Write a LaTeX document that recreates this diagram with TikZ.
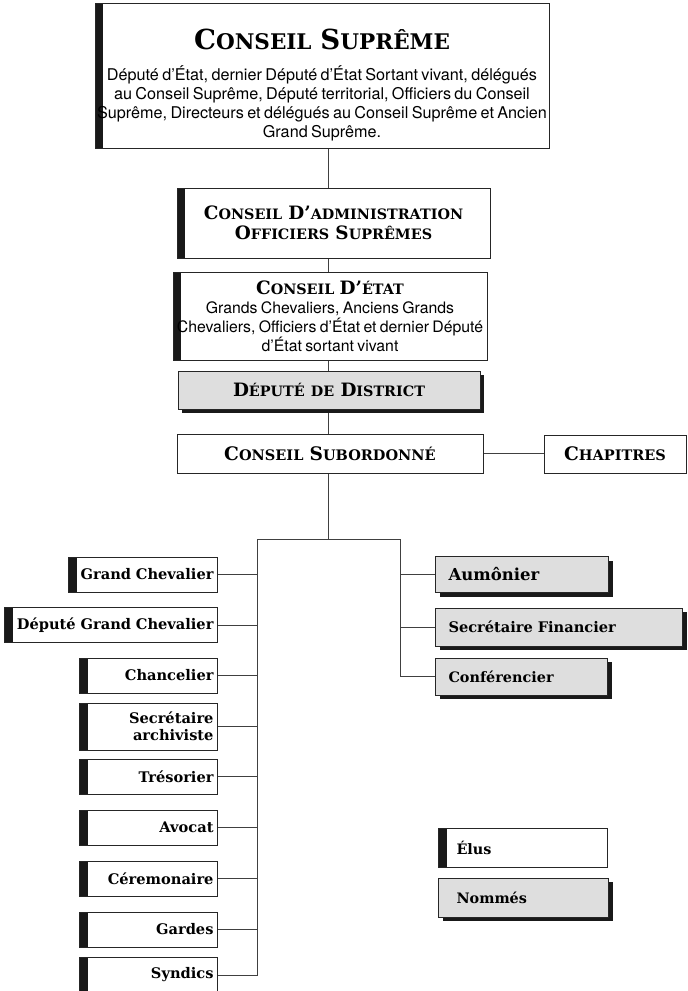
\documentclass[tikz,border=0pt]{standalone}
\usepackage{fontspec}
\usetikzlibrary{shadows,backgrounds}
\newfontfamily\helv{TeX Gyre Heros}
\newfontfamily\dvs{DejaVu Serif}
\newcommand\sch{\dvs\bfseries}
\newcommand\bodytext{\helv\fontsize{15.8}{19}\selectfont}
\makeatletter
\newcommand\sm[1]{{\fontsize{\fpeval{0.78*\f@size}}{\f@baselineskip}\selectfont #1}}
\makeatother

\begin{document}
\begin{tikzpicture}[x=1pt, y=-1pt,
    box/.style={draw=black!85, line width=1pt, fill=white, inner sep=0pt, align=center},
    elu/.style={box, path picture={\fill[black!90] (path picture bounding box.north west) rectangle ([xshift=8pt]path picture bounding box.south west);}},
    nomme/.style={box, fill=black!13, drop shadow={shadow xshift=4pt, shadow yshift=-4pt, fill=black!90, opacity=1}},
    lbox/.style={elu, anchor=east, align=right, inner xsep=4pt, text width=#1, minimum height=35pt, font=\fontsize{14.6}{17}\sch},
    rbox/.style={nomme, anchor=west, align=left, inner xsep=13pt, text width=#1, minimum height=36pt},
    link/.style={draw=black!75, line width=1pt}]
    \useasboundingbox (0,0) rectangle (688,991);

    % main chain
    \node[elu, text width=454pt, minimum height=145pt] (sup) at (322,75.5)
        {{\fontsize{27.6}{30}\sch\rule{0pt}{40pt}C\sm{ONSEIL}\hspace{0.2em} S\sm{UPRÊME}\par}\vspace{12pt}
         {\helv\fontsize{16.2}{19}\selectfont Député d’État, dernier Député d’État Sortant vivant, délégués\\
          au Conseil Suprême, Député territorial, Officiers du Conseil\\
          Suprême, Directeurs et délégués au Conseil Suprême et Ancien\\
          Grand Suprême.\par}};
    \node[elu, text width=313pt, minimum height=70pt, font=\fontsize{18.4}{20}\sch] (admin) at (333.5,223)
        {C\sm{ONSEIL} D’\sm{ADMINISTRATION}\\ O\sm{FFICIERS} S\sm{UPRÊMES}};
    \node[elu, text width=314pt, minimum height=88pt] (etat) at (330,316)
        {{\fontsize{18.4}{20}\sch C\sm{ONSEIL}\hspace{0.1em} D’\sm{ÉTAT}\par}
         {\bodytext Grands Chevaliers, Anciens Grands\\
          Chevaliers, Officiers d’État et dernier Député\\
          d’État sortant vivant\par}};
    \node[nomme, text width=302pt, minimum height=38pt, font=\fontsize{18.4}{20}\sch] (district) at (329,390)
        {D\sm{ÉPUTÉ DE} D\sm{ISTRICT}};
    \node[box, text width=306pt, minimum height=39pt, font=\fontsize{18.6}{20}\sch] (subord) at (330,453.5)
        {C\sm{ONSEIL} S\sm{UBORDONNÉ}};
    \node[box, text width=142pt, minimum height=38pt, font=\fontsize{18.6}{20}\sch] (chap) at (615,454)
        {C\sm{HAPITRES}};

    % elected officers
    \node[lbox=141pt] (gc) at (218,574.5) {Grand Chevalier};
    \node[lbox=205pt] (dgc) at (218,625) {Député Grand Chevalier};
    \node[lbox=130pt] (chanc) at (218,675.5) {Chancelier};
    \node[lbox=130pt, minimum height=47pt] (sarch) at (218,726.5) {Secrétaire\\ archiviste};
    \node[lbox=130pt] (tres) at (218,776.5) {Trésorier};
    \node[lbox=130pt] (avocat) at (218,827.5) {Avocat};
    \node[lbox=130pt] (cerem) at (218,878.5) {Céremonaire};
    \node[lbox=130pt] (gardes) at (218,929.5) {Gardes};
    \node[lbox=130pt] (syndics) at (218,975) {Syndics};

    % appointed officers
    \node[rbox=147pt, font=\fontsize{16.5}{17}\sch] (aum) at (435,574.5) {Aumônier};
    \node[rbox=221pt, minimum height=38pt, font=\fontsize{14.6}{15}\sch] (secfin) at (435,627) {Secrétaire Financier};
    \node[rbox=146pt, minimum height=37pt, font=\fontsize{14.4}{15}\sch] (conf) at (435,676.5) {Conférencier};

    % legend
    \node[elu, anchor=west, align=left, inner xsep=18pt, text width=133pt, minimum height=39pt, font=\fontsize{14.4}{15}\sch] (elus) at (438,847.5) {Élus};
    \node[nomme, anchor=west, align=left, inner xsep=18pt, text width=134pt, minimum height=39pt, font=\fontsize{14.4}{15}\sch] (nommes) at (438,897.5) {Nommés};

    \begin{scope}[on background layer]
    \coordinate (tr) at (328,0);
    \coordinate (fork) at (328,539);
    \coordinate (lt) at (257,539);
    \coordinate (rt) at (400,539);
    \draw[link] (sup.south -| tr) -- (admin.north -| tr);
    \draw[link] (admin.south -| tr) -- (etat.north -| tr);
    \draw[link] (etat.south -| tr) -- (district.north -| tr);
    \draw[link] (district.south -| tr) -- (subord.north -| tr);
    \draw[link] (subord.east) -- (chap.west |- subord.east);
    \draw[link] (subord.south -| tr) -- (fork);
    \draw[link] (lt) -- (rt);
    \draw[link] (lt) -- (lt |- syndics.east) -- (syndics.east);
    \draw[link] (rt) -- (rt |- conf.west) -- (conf.west);
    \foreach \n in {gc,dgc,chanc,sarch,tres,avocat,cerem,gardes}
        \draw[link] (\n.east) -- (\n.east -| lt);
    \foreach \n in {aum,secfin}
        \draw[link] (\n.west) -- (\n.west -| rt);
    \end{scope}
\end{tikzpicture}
\end{document}
